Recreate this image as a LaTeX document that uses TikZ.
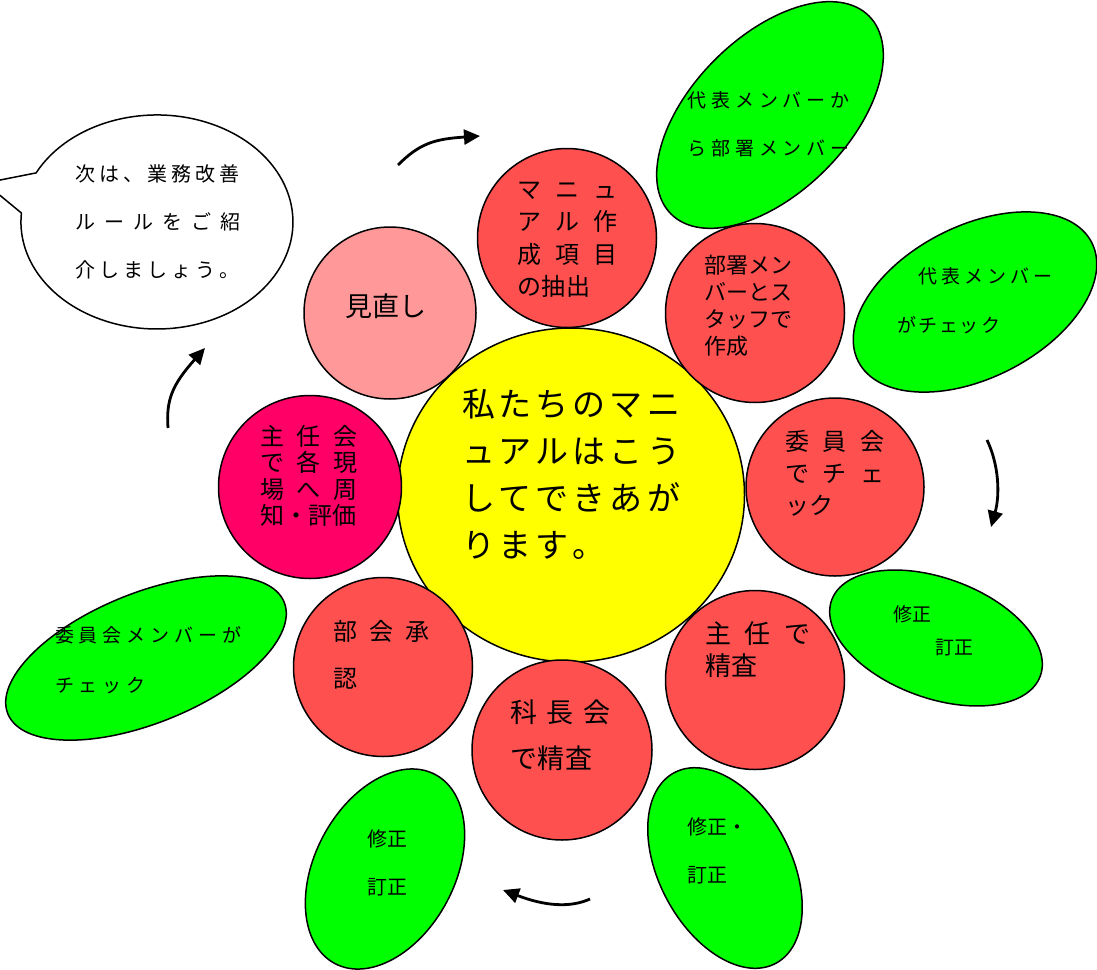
\documentclass[tikz,border=0pt]{standalone}
\usepackage{fontspec}
\setmainfont{Noto Sans CJK JP}
\usetikzlibrary{shapes.geometric,arrows.meta}
\definecolor{redp}{HTML}{FF5050}
\definecolor{pinkp}{HTML}{FF9999}
\definecolor{magp}{HTML}{FF0066}
\definecolor{yelp}{HTML}{FFFF00}
\definecolor{grnp}{HTML}{00FF00}
\makeatletter
\newcommand\ks[2]{\begingroup\def\ks@k{#1}\@tfor\ks@c:=#2\do{\ks@c\kern\ks@k}\unkern\endgroup}
\makeatother
\newcommand\fs[2]{\fontsize{#1}{#2}\selectfont}
\begin{document}
\begin{tikzpicture}[x=1pt,y=-1pt,
  disc/.style={circle, draw=black, line width=1.5pt, inner sep=0pt, minimum size=#1},
  leaf/.style={ellipse, draw=black, line width=1.5pt, fill=grnp, inner sep=0pt},
  txt/.style={inner sep=0pt, outer sep=0pt, anchor=north west, align=left},
  arr/.style={line width=2.8pt, -{Triangle[length=16pt,width=15pt]}}]
\useasboundingbox (0,0) rectangle (1097,969);

% green leaves
\node[leaf, minimum width=280pt, minimum height=156pt, rotate=45] (g1) at (770,115) {};
\node[leaf, minimum width=262pt, minimum height=152pt, rotate=27] (g2) at (975,302) {};
\node[leaf, minimum width=222pt, minimum height=120pt, rotate=-20] (g3) at (936,638) {};
\node[leaf, minimum width=298pt, minimum height=130pt, rotate=22] (g4) at (146,658) {};
\node[leaf, minimum width=214pt, minimum height=140pt, rotate=62] (g5) at (385,869) {};
\node[leaf, minimum width=216pt, minimum height=132pt, rotate=-62] (g6) at (725,868) {};

% callout
\begin{scope}
\clip (0,0) rectangle (1097,969);
\draw[line width=1.5pt, fill=white] (36.1,172.9) arc[start angle=207.3, end angle=544.8, x radius=136, y radius=107] -- (-15,183) -- cycle;
\end{scope}

% arrows
\coordinate (a1s) at (398,165); \coordinate (a1e) at (480,136);
\coordinate (a2s) at (987,440); \coordinate (a2e) at (991,527);
\coordinate (a3s) at (590,899); \coordinate (a3e) at (503,890);
\coordinate (a4s) at (168,428); \coordinate (a4e) at (205,348);
\draw[arr] (a1s) .. controls (420,143) and (435,139) .. (a1e);
\draw[arr] (a2s) .. controls (999,465) and (1000,495) .. (a2e);
\draw[arr] (a3s) .. controls (570,908) and (545,906) .. (a3e);
\draw[arr] (a4s) .. controls (166,400) and (172,385) .. (a4e);

% centre
\node[ellipse, draw=black, line width=1.5pt, fill=yelp, inner sep=0pt, minimum width=347pt, minimum height=334pt] (c) at (571,495) {};

% petals
\node[disc=179pt, fill=redp] (p1) at (567,238) {};
\node[disc=172pt, fill=pinkp] (p0) at (390,313) {};
\node[disc=179pt, fill=redp] (p2) at (755,313) {};
\node[disc=178pt, fill=redp] (p3) at (835,487) {};
\node[disc=179pt, fill=redp] (p4) at (755,680) {};
\node[disc=180pt, fill=redp] (p5) at (562,750) {};
\node[disc=179pt, fill=redp] (p6) at (383,667) {};
\node[disc=183pt, fill=magp] (p7) at (310,487) {};

% texts
\node[txt, font=\fs{33}{47}] (tc) at (462,389) {\ks{4pt}{私たちのマニ}\\\ks{4pt}{ュアルはこう}\\\ks{4pt}{してできあが}\\\ks{4pt}{ります。}};
\node[txt, font=\fs{24}{32.5}] (t1) at (517,182) {\ks{14.5pt}{マニュ}\\\ks{14.5pt}{アル作}\\\ks{14.5pt}{成項目}\\\ks{1pt}{の抽出}};
\node[txt, font=\fs{27}{32}] (t0) at (345,294) {見直し};
\node[txt, font=\fs{22}{27}] (t2) at (704,255) {部署メン\\バーとス\\タッフで\\作成};
\node[txt, font=\fs{24}{32}] (t3) at (785,430) {\ks{13.5pt}{委員会}\\\ks{13.5pt}{でチェ}\\\ks{1pt}{ック}};
\node[txt, font=\fs{26}{32}] (t4) at (705,622) {\ks{14pt}{主任で}\\\ks{1pt}{精査}};
\node[txt, font=\fs{27}{46}] (t5) at (510,700) {\ks{10pt}{科長会}\\\ks{0.5pt}{で精査}};
\node[txt, font=\fs{24}{47}] (t6) at (333,620) {\ks{12pt}{部会承}\\認};
\node[txt, font=\fs{24}{26.5}] (t7) at (260,425) {\ks{13pt}{主任会}\\\ks{13pt}{で各現}\\\ks{13pt}{場へ周}\\知・評価};
\node[txt, font=\fs{20}{48}] (tb) at (75,165) {\ks{4pt}{次は、業務改善}\\\ks{9pt}{ルールをご紹}\\\ks{4pt}{介しましょう。}};
\node[txt, font=\fs{19}{48}] (tg1) at (687,92) {\ks{5pt}{代表メンバーか}\\\ks{5pt}{ら部署メンバー}};
\node[txt, font=\fs{19}{49}] (tg2) at (897,268) {\hspace*{21pt}\ks{4pt}{代表メンバー}\\\ks{2pt}{がチェック}};
\node[txt, font=\fs{19}{33}] (tg3) at (893,606) {修正\\\hspace*{42pt}訂正};
\node[txt, font=\fs{19}{50}] (tg4) at (55,626) {\ks{5pt}{委員会メンバーが}\\\ks{5pt}{チェック}};
\node[txt, font=\fs{20}{48}] (tg5) at (367,830) {修正\\訂正};
\node[txt, font=\fs{20}{48}] (tg6) at (687,818) {修正・\\訂正};
\end{tikzpicture}
\end{document}
